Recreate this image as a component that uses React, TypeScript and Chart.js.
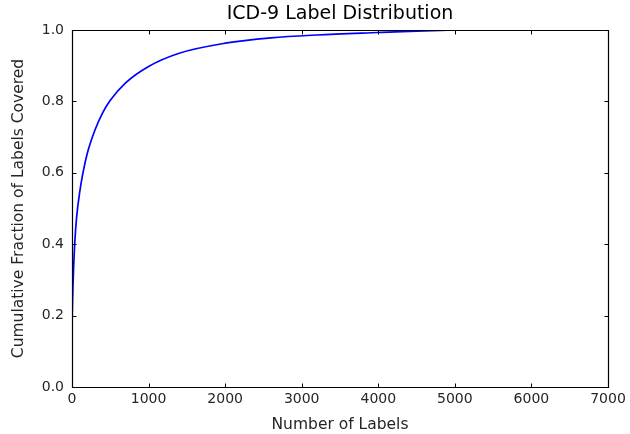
import React, { useEffect, useRef } from "react";
import { Chart, registerables } from "chart.js";

Chart.register(...registerables);

const numLabels: number[] = [0, 5, 13, 22, 35, 60, 100, 143, 200, 300, 400, 500, 700, 1000, 1400, 2000, 2600, 3200, 4000, 4500, 4980];
const cumFraction: number[] = [0.17, 0.22, 0.285, 0.34, 0.4, 0.475, 0.545, 0.6, 0.655, 0.72, 0.768, 0.803, 0.852, 0.898, 0.935, 0.963, 0.978, 0.986, 0.993, 0.997, 1.0];
const xTicks: number[] = [0, 1000, 2000, 3000, 4000, 5000, 6000, 7000];
const yTicks: number[] = [0, 0.2, 0.4, 0.6, 0.8, 1.0];
const chartTitle = "ICD-9 Label Distribution";

const FONT = "'DejaVu Sans', sans-serif";
const TEXT = "#262626";

const boxTicks = {
  id: "boxTicks",
  afterDraw(chart: any) {
    const { ctx, chartArea: a, scales } = chart;
    const left = Math.round(a.left) + 0.5;
    const right = Math.round(a.right) + 0.5;
    const top = Math.round(a.top) + 0.5;
    const bottom = Math.round(a.bottom) + 0.5;
    ctx.save();
    ctx.strokeStyle = "#000";
    ctx.lineWidth = 1;
    const L = 4;
    ctx.beginPath();
    xTicks.forEach((v) => {
      const px = Math.round(scales.x.getPixelForValue(v)) + 0.5;
      ctx.moveTo(px, bottom);
      ctx.lineTo(px, bottom - L);
      ctx.moveTo(px, top);
      ctx.lineTo(px, top + L);
    });
    yTicks.forEach((v) => {
      const py = Math.round(scales.y.getPixelForValue(v)) + 0.5;
      ctx.moveTo(left, py);
      ctx.lineTo(left + L, py);
      ctx.moveTo(right, py);
      ctx.lineTo(right - L, py);
    });
    ctx.stroke();
    ctx.lineWidth = 1.2;
    ctx.beginPath();
    ctx.moveTo(left, top);
    ctx.lineTo(right, top);
    ctx.lineTo(right, bottom);
    ctx.lineTo(left, bottom);
    ctx.closePath();
    ctx.stroke();
    ctx.fillStyle = "#000";
    ctx.font = `19px ${FONT}`;
    ctx.textAlign = "center";
    ctx.textBaseline = "middle";
    ctx.fillText(chartTitle, (a.left + a.right) / 2, 14);
    ctx.restore();
  },
};

export default function App() {
  const ref = useRef<HTMLCanvasElement | null>(null);
  useEffect(() => {
    if (!ref.current) return;
    const chart = new Chart(ref.current, {
      type: "line",
      data: {
        datasets: [
          {
            data: numLabels.map((x, i) => ({ x, y: cumFraction[i] })),
            borderColor: "#0000ff",
            borderWidth: 1.7,
            pointRadius: 0,
            cubicInterpolationMode: "monotone",
            fill: false,
          },
        ],
      },
      options: {
        responsive: false,
        animation: false,
        layout: { padding: { left: 0, right: 22, top: 30, bottom: 0 } },
        plugins: {
          legend: { display: false },
          tooltip: { enabled: false },
          title: { display: false },
        },
        scales: {
          x: {
            type: "linear",
            min: 0,
            max: 7000,
            grid: { display: false, drawTicks: false },
            border: { display: false },
            afterBuildTicks: (s: any) => {
              s.ticks = xTicks.map((v) => ({ value: v }));
            },
            afterFit: (s: any) => {
              s.height = 47;
            },
            ticks: {
              color: TEXT,
              font: { family: FONT, size: 14 },
              padding: 4,
              maxRotation: 0,
              callback: (v: any) => String(v),
            },
            title: {
              display: true,
              text: "Number of Labels",
              color: TEXT,
              font: { family: FONT, size: 15.5 },
              padding: { top: 2, bottom: 0 },
            },
          },
          y: {
            min: 0,
            max: 1,
            grid: { display: false, drawTicks: false },
            border: { display: false },
            afterBuildTicks: (s: any) => {
              s.ticks = yTicks.map((v) => ({ value: v }));
            },
            afterFit: (s: any) => {
              s.width = 72;
            },
            ticks: {
              color: TEXT,
              font: { family: FONT, size: 14 },
              padding: 8,
              callback: (v: any) => Number(v).toFixed(1),
            },
            title: {
              display: true,
              text: "Cumulative Fraction of Labels Covered",
              color: TEXT,
              font: { family: FONT, size: 15.5 },
              padding: { top: 10, bottom: 2 },
            },
          },
        },
      },
      plugins: [boxTicks],
    });
    return () => chart.destroy();
  }, []);
  return (
    <div style={{ position: "fixed", left: 0, top: 0, width: 630, height: 434, background: "#fff" }}>
      <canvas ref={ref} width={630} height={434} />
    </div>
  );
}
